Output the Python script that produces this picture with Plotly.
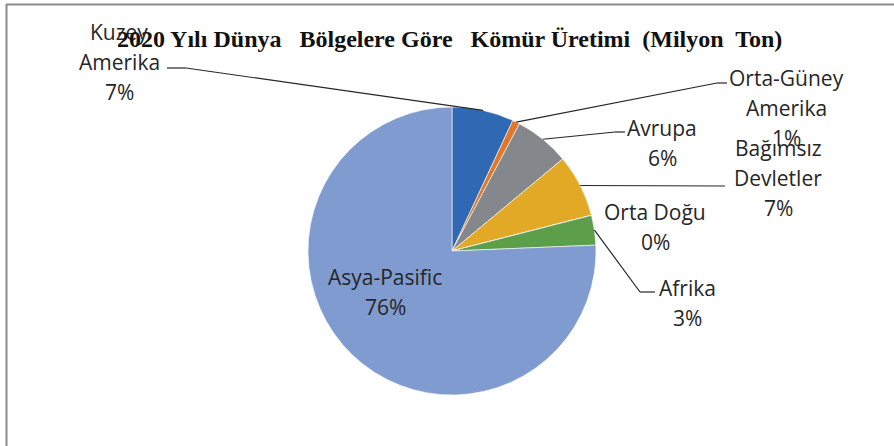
import math
import plotly.graph_objects as go

# ---- data ----
regions = ["Kuzey Amerika", "Orta-Güney Amerika", "Avrupa", "Bağımsız Devletler",
           "Orta Doğu", "Afrika", "Asya-Pasific"]
production = [537, 64, 480, 545, 1.2, 258, 5857]   # milyon ton
label_lines = [["Kuzey", "Amerika"], ["Orta-Güney", "Amerika"], ["Avrupa"],
               ["Bağımsız", "Devletler"], ["Orta Doğu"], ["Afrika"], ["Asya-Pasific"]]
colors = ["#2F69B3", "#E0782B", "#84878B", "#E2A927", "#4F7FC0", "#5D9E4A", "#7F9BD0"]
title_text = "2020 Yılı Dünya\u00a0\u00a0 Bölgelere Göre\u00a0\u00a0 Kömür Üretimi\u00a0 (Milyon\u00a0 Ton)"

# ---- layout geometry (pixels) ----
W, H = 894, 446
CX, CY, R = 452, 251, 144
# label block: (center x, first line y)
label_pos = [(119, 32), (786, 78), (662, 128), (778, 148), (655, 212), (687, 288), (385, 277)]
# leader line: list of points from label side (None -> no leader)
leader_pts = [[(167, 68), (186, 68)], [(727, 83), (717, 83)], [(625, 132), (615, 132)],
              [(725, 186)], None, [(655, 292), (640, 292)], None]
LINE_H = 30

def px(x):
    return x / W

def py(y):
    return 1 - y / H

fig = go.Figure(go.Pie(
    labels=regions, values=production, sort=False, direction="clockwise", rotation=0,
    marker=dict(colors=colors, line=dict(color="white", width=0.6)),
    textinfo="none", hoverinfo="label+value+percent",
    domain=dict(x=[px(CX - R), px(CX + R)], y=[py(CY + R), py(CY - R)]),
    showlegend=False,
))

total = sum(production)
shapes = []
annotations = []
cum = 0
for i, v in enumerate(production):
    frac = v / total
    mid = (cum + frac / 2) * 2 * math.pi
    cum += frac
    pct = round(frac * 100)
    lines = label_lines[i] + [f"{pct}%"]
    lx, ly = label_pos[i]
    for k, t in enumerate(lines):
        annotations.append(dict(text=t, x=px(lx), y=py(ly + k * LINE_H), xref="paper", yref="paper",
                                showarrow=False, xanchor="center", yanchor="middle",
                                font=dict(family="Open Sans", size=21, color="#262626")))
    if leader_pts[i]:
        sx, sy = CX + R * math.sin(mid), CY - R * math.cos(mid)
        pts = leader_pts[i] + [(sx, sy)]
        for a, b in zip(pts[:-1], pts[1:]):
            shapes.append(dict(type="line", xref="paper", yref="paper",
                               x0=px(a[0]), y0=py(a[1]), x1=px(b[0]), y1=py(b[1]),
                               line=dict(color="#262626", width=1.2)))

annotations.append(dict(text=f"<b>{title_text}</b>", x=px(449), y=py(39), xref="paper", yref="paper",
                        showarrow=False, xanchor="center", yanchor="middle",
                        font=dict(family="Liberation Serif", size=24, color="#111111")))

# frame (top and left edges visible)
shapes.append(dict(type="line", xref="paper", yref="paper", x0=px(6), y0=py(4.5), x1=1, y1=py(4.5),
                   line=dict(color="#8A8A8A", width=2)))
shapes.append(dict(type="line", xref="paper", yref="paper", x0=px(6.5), y0=py(4), x1=px(6.5), y1=0,
                   line=dict(color="#8A8A8A", width=2)))

fig.update_layout(width=W, height=H, margin=dict(l=0, r=0, t=0, b=0),
                  paper_bgcolor="white", plot_bgcolor="white",
                  shapes=shapes, annotations=annotations)

fig.write_html("out.html", config={"displayModeBar": False},
               post_script="document.body.style.margin='0';document.body.style.overflow='hidden';")
